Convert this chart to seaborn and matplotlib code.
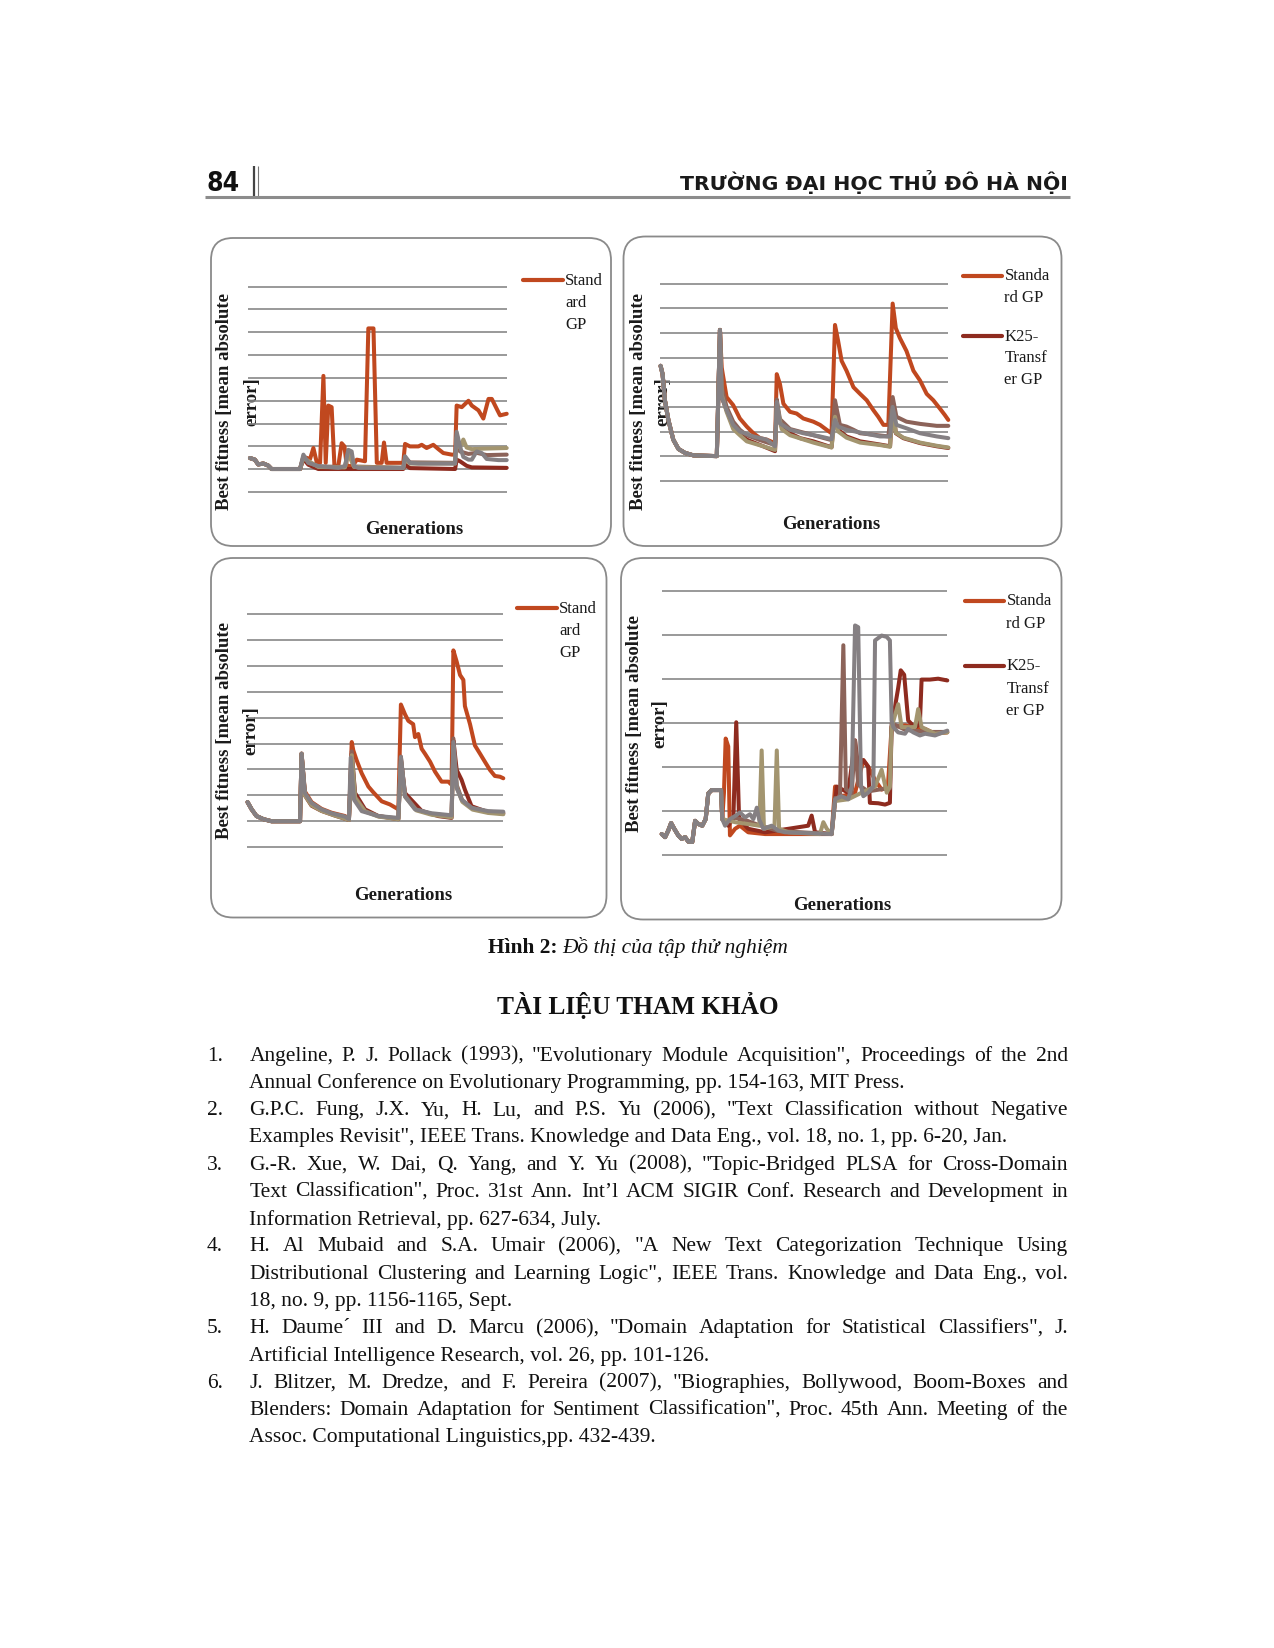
import matplotlib
matplotlib.use("Agg")
import matplotlib.pyplot as plt
from matplotlib import font_manager as fm
from matplotlib.font_manager import FontProperties
from matplotlib.patches import FancyBboxPatch
import seaborn as sns
import pandas as pd

# ---------------------------------------------------------------- data
SERIES_NAMES = ["Standard GP", "K25-Transfer GP", "K50-Transfer GP",
                "K75-Transfer GP", "K100-Transfer GP"]
COLORS = ["#C0481F", "#8E2B1F", "#8C6359", "#A3956F", "#858083"]

# ---- panel 1 (top left)
P1_START_X = [0, 1.9, 3.2, 5.2, 7.1, 8.4, 19.5]
P1_START_Y = [1.49, 1.42, 1.21, 1.25, 1.16, 1.01, 1.01]
P1_STD_X = [20.8, 23.4, 24.7, 26.0, 27.3, 28.6, 29.5, 30.5, 31.8, 32.9, 34.4, 35.7, 36.8, 37.7, 40.0,
            41.6, 44.8, 46.1, 48.1, 49.4, 51.3, 52.2, 53.2, 59.7, 60.4, 62.3, 65.6, 66.9, 68.8, 71.4,
            73.4, 75.3, 78.6, 79.9, 80.5, 82.5, 85.1, 86.4, 89.0, 90.9, 92.9, 94.2, 96.1, 97.4, 100]
P1_STD_Y = [1.54, 1.45, 1.93, 1.30, 1.28, 5.09, 1.28, 3.79, 3.72, 1.14, 1.14, 2.14, 2.00, 1.14, 1.14,
            1.42, 1.35, 7.17, 7.17, 1.28, 1.28, 2.17, 1.28, 1.28, 2.11, 2.00, 2.00, 2.07, 1.93, 2.07,
            1.88, 1.71, 1.64, 1.64, 3.79, 3.72, 4.00, 3.79, 3.58, 3.22, 4.08, 4.08, 3.65, 3.36, 3.43]
P1_K25_X = [20.8, 22.7, 26.6, 59.7, 60.4, 62.3, 79.9, 80.5, 81.8, 84.4, 86.4, 100]
P1_K25_Y = [1.45, 1.20, 1.01, 1.01, 1.20, 1.05, 1.01, 1.42, 1.35, 1.15, 1.08, 1.06]
P1_K50_X = [20.8, 22.7, 26.6, 37.0, 38.3, 40.5, 59.7, 60.4, 62.3, 79.9, 80.5, 81.8, 85.1, 88.3, 92.2, 100]
P1_K50_Y = [1.55, 1.30, 1.12, 1.10, 1.80, 1.12, 1.06, 1.50, 1.30, 1.28, 2.55, 1.78, 1.67, 1.72, 1.62, 1.64]
P1_K75_X = [20.8, 26.6, 37.0, 38.3, 40.5, 59.7, 60.4, 62.3, 79.9, 80.5, 81.8, 83.1, 84.4, 86.4, 90.3, 100]
P1_K75_Y = [1.50, 1.10, 1.08, 1.70, 1.10, 1.06, 1.45, 1.25, 1.25, 2.40, 1.95, 2.30, 1.95, 1.88, 1.90, 1.93]
P1_K100_X = [20.8, 22.7, 26.6, 34.4, 37.0, 38.3, 39.6, 40.5, 42.2, 59.7, 60.4, 62.3, 65.6, 79.9, 80.5,
             81.8, 83.1, 85.1, 86.4, 88.3, 90.3, 92.2, 96.8, 100]
P1_K100_Y = [1.64, 1.28, 1.14, 1.06, 1.14, 1.85, 1.78, 1.14, 1.06, 1.06, 1.57, 1.28, 1.25, 1.25, 2.64,
             2.00, 1.54, 1.42, 1.42, 1.78, 1.71, 1.45, 1.40, 1.40]

# ---- panel 2 (top right)
P2_START_X = [0.2, 0.9, 1.7, 2.9, 4.6, 6.4, 8.7, 11.6, 19.7, 20.8]
P2_START_Y = [4.67, 4.33, 3.27, 2.47, 1.67, 1.29, 1.13, 1.03, 1.00, 6.13]
P2_STD_X = [21.4, 23.1, 25.4, 27.7, 30.1, 32.4, 34.7, 37.0, 39.9, 40.5, 41.6, 42.8, 45.1, 47.4, 49.7,
            53.2, 55.5, 57.8, 59.5, 60.7, 61.8, 63.0, 64.7, 67.1, 69.4, 71.7, 74.0, 75.7, 77.5, 79.2,
            80.7, 81.8, 83.2, 85.5, 87.9, 90.2, 92.5, 94.8, 97.1, 98.8, 100]
P2_STD_Y = [4.60, 3.40, 3.07, 2.53, 2.20, 1.93, 1.73, 1.67, 1.53, 4.33, 3.93, 3.13, 2.80, 2.73, 2.53,
            2.40, 2.27, 2.07, 1.93, 6.33, 5.67, 4.87, 4.47, 3.80, 3.53, 3.27, 2.87, 2.60, 2.27, 2.27,
            7.20, 6.20, 5.80, 5.27, 4.47, 4.07, 3.53, 3.27, 2.93, 2.67, 2.47]
P2_K25_X = [21.4, 23.1, 25.4, 27.7, 30.1, 32.4, 35.8, 39.9, 40.5, 42.2, 45.1, 48.6, 53.2, 59.5, 60.7,
            61.8, 64.7, 69.4, 76.3, 79.8, 80.7, 81.8, 84.4, 90.2, 96.0, 100]
P2_K25_Y = [3.40, 2.87, 2.20, 1.93, 1.67, 1.56, 1.40, 1.20, 2.87, 2.20, 1.93, 1.73, 1.60, 1.36, 2.87,
            2.07, 1.80, 1.60, 1.47, 1.40, 3.13, 1.93, 1.73, 1.53, 1.40, 1.33]
P2_K50_X = [21.4, 23.1, 25.4, 27.7, 30.1, 34.7, 39.9, 40.5, 41.6, 45.1, 53.2, 59.5, 60.7, 62.4, 64.7,
            67.1, 69.4, 74.0, 79.2, 80.7, 82.0, 85.5, 90.2, 96.0, 100]
P2_K50_Y = [3.80, 3.00, 2.40, 2.07, 1.85, 1.65, 1.45, 3.30, 2.50, 2.10, 1.85, 1.65, 3.27, 2.27, 2.20,
            2.07, 1.93, 1.87, 1.80, 3.40, 2.60, 2.40, 2.31, 2.23, 2.23]
P2_K75_X = [21.4, 23.1, 25.4, 27.7, 30.1, 35.8, 39.9, 40.5, 42.2, 45.1, 53.2, 59.5, 60.7, 61.8, 64.7,
            69.4, 76.3, 79.8, 80.7, 81.8, 84.4, 90.2, 96.0, 100]
P2_K75_Y = [3.50, 2.80, 2.10, 1.85, 1.60, 1.40, 1.25, 3.10, 2.10, 1.85, 1.55, 1.35, 2.60, 2.00, 1.75,
            1.55, 1.45, 1.38, 2.90, 1.95, 1.75, 1.55, 1.42, 1.35]
P2_K100_X = [21.4, 23.1, 25.4, 27.7, 32.4, 37.0, 39.9, 40.5, 41.6, 45.1, 49.7, 55.5, 59.5, 60.7, 61.8,
             64.7, 69.4, 76.3, 79.8, 80.7, 82.0, 85.5, 90.2, 96.0, 100]
P2_K100_Y = [3.40, 2.87, 2.27, 2.00, 1.80, 1.67, 1.40, 3.20, 2.33, 2.07, 1.93, 1.80, 1.69, 2.47, 2.20,
             2.07, 1.96, 1.80, 1.80, 3.00, 2.27, 2.13, 1.93, 1.80, 1.73]

# ---- panel 3 (bottom left)
P3_START_X = [0.1, 1.7, 3.6, 6.3, 9.5, 19.9, 20.6, 21.2]
P3_START_Y = [1.74, 1.46, 1.20, 1.08, 1.00, 1.00, 1.00, 3.61]
P3_STD_X = [22.5, 25.1, 29.0, 32.9, 38.2, 39.7, 40.8, 41.4, 42.7, 44.7, 47.3, 49.2, 52.5, 55.7, 59.0,
            60.0, 61.6, 62.9, 64.8, 65.5, 66.8, 68.1, 69.4, 71.4, 73.3, 75.9, 78.5, 79.8, 80.5, 81.8,
            83.1, 84.4, 85.0, 87.0, 88.9, 90.9, 92.8, 94.8, 96.7, 98.7, 100]
P3_STD_Y = [2.15, 1.74, 1.48, 1.33, 1.20, 1.08, 4.06, 3.74, 3.36, 2.85, 2.34, 2.12, 1.77, 1.65, 1.46,
            5.51, 5.13, 4.88, 4.75, 4.25, 4.37, 3.80, 3.61, 3.30, 2.92, 2.53, 2.53, 2.41, 7.60, 7.16,
            6.65, 6.46, 5.45, 4.75, 3.93, 3.61, 3.30, 2.98, 2.75, 2.72, 2.66]
P3_K25_X = [22.5, 25.1, 29.0, 34.2, 39.7, 40.8, 42.1, 46.0, 51.2, 59.0, 60.0, 61.6, 68.1, 74.6, 79.8,
            80.5, 81.8, 83.7, 85.0, 87.6, 94.1, 100]
P3_K25_Y = [2.00, 1.60, 1.40, 1.22, 1.05, 3.61, 2.09, 1.46, 1.20, 1.08, 3.40, 2.09, 1.40, 1.20, 1.13,
            4.12, 2.98, 2.60, 2.22, 1.58, 1.35, 1.30]
P3_K50_X = [22.5, 25.1, 29.0, 34.2, 39.7, 40.8, 42.1, 46.0, 51.2, 59.0, 60.0, 61.6, 66.0, 72.0, 79.8,
            80.5, 81.8, 84.0, 88.0, 94.1, 100]
P3_K50_Y = [2.05, 1.65, 1.42, 1.25, 1.06, 3.70, 1.95, 1.40, 1.20, 1.10, 3.50, 2.00, 1.45, 1.28, 1.20,
            4.20, 2.40, 1.80, 1.50, 1.37, 1.33]
P3_K75_X = [22.5, 25.1, 29.0, 34.2, 39.7, 40.8, 42.1, 46.0, 51.2, 59.0, 60.0, 61.6, 66.0, 72.0, 79.8,
            80.5, 81.8, 84.0, 88.0, 94.1, 100]
P3_K75_Y = [2.00, 1.62, 1.40, 1.22, 1.05, 3.55, 1.90, 1.38, 1.18, 1.08, 3.35, 1.95, 1.42, 1.25, 1.15,
            3.90, 2.30, 1.75, 1.45, 1.32, 1.27]
P3_K100_X = [22.5, 25.1, 29.0, 32.9, 38.2, 39.7, 40.4, 41.7, 44.7, 51.2, 59.0, 60.0, 61.6, 65.5, 71.9,
             79.8, 80.5, 81.8, 83.7, 87.6, 94.1, 100]
P3_K100_Y = [2.09, 1.71, 1.46, 1.31, 1.18, 1.08, 3.46, 1.83, 1.39, 1.20, 1.13, 3.48, 1.96, 1.46, 1.31,
             1.23, 4.06, 2.28, 1.84, 1.52, 1.39, 1.37]

# ---- panel 4 (bottom right)
P4_START_X = [0, 1.2, 2.3, 3.3, 4.4, 5.8, 7.0, 8.2, 9.3, 10.7, 11.7, 12.8, 14.2, 15.4, 16.3, 17.5, 20.8, 21.2]
P4_START_Y = [0.48, 0.41, 0.56, 0.73, 0.60, 0.45, 0.37, 0.41, 0.31, 0.30, 0.78, 0.71, 0.67, 0.82, 1.40,
              1.48, 1.48, 0.82]
P4_STD_X = [21.8, 22.4, 23.3, 23.9, 25.7, 27.4, 30.3, 36.2, 59.5, 60.7, 63.0, 67.7, 70.6, 72.3, 74.7,
            77.0, 79.2, 80.5, 85.2, 88.7, 92.2, 95.7, 100]
P4_STD_Y = [1.42, 2.65, 2.47, 0.45, 0.60, 0.67, 0.52, 0.48, 0.48, 1.56, 1.34, 1.42, 2.16, 2.01, 1.71,
            1.49, 1.56, 2.91, 2.95, 2.90, 2.87, 2.76, 2.79]
P4_K25_X = [23.3, 25.1, 26.1, 27.1, 30.3, 36.2, 44.4, 51.3, 52.5, 53.7, 59.5, 61.3, 65.3, 67.7, 68.8,
            70.6, 72.3, 72.9, 75.8, 78.2, 79.9, 80.5, 82.8, 83.7, 84.9, 86.3, 88.7, 90.4, 91.0, 93.9,
            96.8, 100]
P4_K25_Y = [0.67, 0.86, 3.02, 0.82, 0.60, 0.52, 0.60, 0.67, 0.90, 0.52, 0.48, 1.56, 1.42, 2.61, 2.00,
            2.16, 2.01, 1.19, 1.18, 1.15, 1.19, 2.91, 3.80, 4.20, 4.10, 3.06, 2.90, 2.98, 3.99, 3.99,
            4.01, 3.97]
P4_K50_X = [22.2, 25.7, 29.2, 33.3, 40.8, 59.5, 60.7, 62.4, 63.6, 64.5, 66.5, 67.7, 68.8, 72.3, 77.0,
            79.9, 80.5, 85.2, 92.2, 100]
P4_K50_Y = [0.75, 0.85, 0.80, 0.70, 0.55, 0.48, 1.30, 1.30, 4.77, 1.50, 1.40, 2.60, 1.60, 1.45, 1.50,
            1.52, 3.00, 2.85, 2.80, 2.80]
P4_K75_X = [25.7, 34.2, 35.0, 35.8, 39.5, 40.3, 41.1, 44.4, 55.4, 56.6, 57.8, 59.5, 60.7, 65.3, 70.0,
            74.7, 77.0, 78.8, 79.9, 80.5, 82.8, 84.0, 88.7, 89.8, 91.0, 95.7, 100]
P4_K75_Y = [0.75, 0.67, 2.38, 0.60, 0.67, 2.38, 0.60, 0.52, 0.48, 0.75, 0.60, 0.48, 1.23, 1.27, 1.42,
            1.56, 1.94, 1.42, 1.56, 2.91, 3.43, 2.91, 2.91, 3.32, 2.91, 2.76, 2.79]
P4_K100_X = [22.2, 23.9, 25.7, 27.4, 29.2, 30.9, 32.1, 33.3, 34.1, 35.6, 38.5, 40.8, 43.2, 59.5, 60.7,
             63.0, 65.3, 66.5, 67.7, 68.8, 69.8, 70.6, 72.3, 74.1, 74.7, 77.0, 78.8, 79.9, 80.5, 81.1,
             82.8, 85.2, 86.3, 88.1, 90.4, 92.2, 95.7, 100]
P4_K100_Y = [0.67, 0.82, 0.89, 0.97, 0.86, 0.93, 0.82, 1.08, 0.82, 0.60, 0.67, 0.56, 0.52, 0.48, 1.27,
             1.34, 1.27, 1.56, 5.22, 5.18, 1.56, 1.34, 1.42, 1.56, 4.88, 4.99, 4.96, 4.88, 3.06, 2.91,
             2.79, 2.76, 2.87, 2.79, 2.72, 2.76, 2.72, 2.83]

# ---- text
HEADER_NUM = "84"
HEADER_TITLE = "TRƯỜNG ĐẠI HỌC THỦ ĐÔ HÀ NỘI"
Y_LABEL_1 = "Best fitness [mean absolute"
Y_LABEL_2 = "error]"
X_LABEL = "Generations"
LEGEND_WRAP_NARROW = [["Stand", "ard", "GP"]]
LEGEND_WRAP_WIDE = [["Standa", "rd GP"], ["K25-", "Transf", "er GP"]]
CAPTION_BOLD = "Hình 2:"
CAPTION_ITALIC = "Đồ thị của tập thử nghiệm"
HEADING = "TÀI LIỆU THAM KHẢO"
REF_LINES = [
    ("1.", 'Angeline, P. J. Pollack (1993), "Evolutionary Module Acquisition", Proceedings of the 2nd', True),
    (None, 'Annual Conference on Evolutionary Programming, pp. 154-163, MIT Press.', False),
    ("2.", 'G.P.C. Fung, J.X. Yu, H. Lu, and P.S. Yu (2006), "Text Classification without Negative', True),
    (None, 'Examples Revisit", IEEE Trans. Knowledge and Data Eng., vol. 18, no. 1, pp. 6-20, Jan.', False),
    ("3.", 'G.-R. Xue, W. Dai, Q. Yang, and Y. Yu (2008), "Topic-Bridged PLSA for Cross-Domain', True),
    (None, 'Text Classification", Proc. 31st Ann. Int\u2019l ACM SIGIR Conf. Research and Development in', True),
    (None, 'Information Retrieval, pp. 627-634, July.', False),
    ("4.", 'H. Al Mubaid and S.A. Umair (2006), "A New Text Categorization Technique Using', True),
    (None, 'Distributional Clustering and Learning Logic", IEEE Trans. Knowledge and Data Eng., vol.', True),
    (None, '18, no. 9, pp. 1156-1165, Sept.', False),
    ("5.", 'H. Daume\u00b4 III and D. Marcu (2006), "Domain Adaptation for Statistical Classifiers", J.', True),
    (None, 'Artificial Intelligence Research, vol. 26, pp. 101-126.', False),
    ("6.", 'J. Blitzer, M. Dredze, and F. Pereira (2007), "Biographies, Bollywood, Boom-Boxes and', True),
    (None, 'Blenders: Domain Adaptation for Sentiment Classification", Proc. 45th Ann. Meeting of the', True),
    (None, 'Assoc. Computational Linguistics,pp. 432-439.', False),
]

PANEL_SERIES = [
    [(P1_START_X + P1_STD_X, P1_START_Y + P1_STD_Y), (P1_START_X + P1_K25_X, P1_START_Y + P1_K25_Y),
     (P1_START_X + P1_K50_X, P1_START_Y + P1_K50_Y), (P1_START_X + P1_K75_X, P1_START_Y + P1_K75_Y),
     (P1_START_X + P1_K100_X, P1_START_Y + P1_K100_Y)],
    [(P2_START_X + P2_STD_X, P2_START_Y + P2_STD_Y), (P2_START_X + P2_K25_X, P2_START_Y + P2_K25_Y),
     (P2_START_X + P2_K50_X, P2_START_Y + P2_K50_Y), (P2_START_X + P2_K75_X, P2_START_Y + P2_K75_Y),
     (P2_START_X + P2_K100_X, P2_START_Y + P2_K100_Y)],
    [(P3_START_X + P3_STD_X, P3_START_Y + P3_STD_Y), (P3_START_X + P3_K25_X, P3_START_Y + P3_K25_Y),
     (P3_START_X + P3_K50_X, P3_START_Y + P3_K50_Y), (P3_START_X + P3_K75_X, P3_START_Y + P3_K75_Y),
     (P3_START_X + P3_K100_X, P3_START_Y + P3_K100_Y)],
    [(P4_START_X + P4_STD_X, P4_START_Y + P4_STD_Y), (P4_START_X + P4_K25_X, P4_START_Y + P4_K25_Y),
     (P4_START_X + P4_K50_X, P4_START_Y + P4_K50_Y), (P4_START_X + P4_K75_X, P4_START_Y + P4_K75_Y),
     (P4_START_X + P4_K100_X, P4_START_Y + P4_K100_Y)],
]

# ---------------------------------------------------------------- layout (pixels)
W, H = 1274, 1649
PANEL_LAYOUT = [
    dict(box=(211, 239, 611, 547), plot=(248.3, 286.0, 506.7, 494.7), ymax=9, xlim=(-0.66, 100),
         ylab=(225, 251.5, 402), xlab=(414, 530),
         leg_line=(523, 563), leg_text=565, leg=[(281, [281, 303, 325])], wrap=LEGEND_WRAP_NARROW),
    dict(box=(623.5, 237.5, 1061.5, 547), plot=(660.0, 283.3, 948.3, 483.3), ymax=8, xlim=(0, 100),
         ylab=(638.3, 663.3, 401.5), xlab=(831.5, 525),
         leg_line=(963, 1002), leg_text=1004.5, leg=[(276.5, [276.5, 298]), (337, [337, 358.5, 380])],
         wrap=LEGEND_WRAP_WIDE),
    dict(box=(211, 559, 606.5, 918.5), plot=(247.3, 613.3, 503.3, 850.0), ymax=9, xlim=(0, 100),
         ylab=(225, 250.5, 731), xlab=(403.3, 896),
         leg_line=(517, 557), leg_text=559, leg=[(609, [609, 631, 653])], wrap=LEGEND_WRAP_NARROW),
    dict(box=(621, 559, 1061.5, 920.5), plot=(661.7, 590.0, 947.3, 858.3), ymax=6, xlim=(0, 100),
         ylab=(635, 660, 724), xlab=(842.5, 906),
         leg_line=(965, 1004), leg_text=1006.5, leg=[(601.5, [601.5, 624]), (666.5, [666.5, 689, 711])],
         wrap=LEGEND_WRAP_WIDE),
]

# ---------------------------------------------------------------- style
sns.set_theme(style="white")
SERIF = ['Liberation Serif', 'DejaVu Serif']
plt.rcParams['font.family'] = SERIF


def find_condensed_bold():
    best = None
    for f in fm.fontManager.ttflist:
        nm = f.name.lower()
        stretch = str(f.stretch).lower()
        narrow = ('narrow' in nm or 'condensed' in nm or 'condensed' in stretch)
        if not narrow or 'mono' in nm or 'serif' in nm:
            continue
        w = f.weight if isinstance(f.weight, int) else (700 if 'bold' in str(f.weight) else 400)
        if w >= 600 and f.style == 'normal':
            best = f.fname
            break
    return best


_cond = find_condensed_bold()
NUM_FONT = (FontProperties(fname=_cond) if _cond
            else FontProperties(family='DejaVu Sans', weight='bold'))

fig = plt.figure(figsize=(W / 100, H / 100), dpi=100)
fig.patch.set_facecolor('white')
bg = fig.add_axes([0, 0, 1, 1])
bg.set_xlim(0, W)
bg.set_ylim(H, 0)
bg.axis('off')
renderer = fig.canvas.get_renderer()


def width_of(t):
    return t.get_window_extent(renderer=renderer).width


def fit(t, target):
    t.set_fontsize(t.get_fontsize() * target / width_of(t))
    return t


# ---------------------------------------------------------------- header
t = bg.text(206, 191, HEADER_NUM, fontproperties=NUM_FONT, ha='left', va='baseline',
            color='#111111')
t.set_fontsize(19 if _cond else 15.5)
bg.plot([254, 254], [167, 197], color='#444444', lw=1.6, solid_capstyle='butt')
bg.plot([257.5, 257.5], [167, 197], color='#777777', lw=0.8, solid_capstyle='butt')
bg.plot([205, 1070], [198, 198], color='#8c8c8c', lw=2.2, solid_capstyle='butt')
t = bg.text(1068, 190.5, HEADER_TITLE, family=['DejaVu Sans'], weight='bold', fontsize=14,
            ha='right', va='baseline', color='#1a1a1a')
fit(t, 389)

# ---------------------------------------------------------------- panels
for spec, series in zip(PANEL_LAYOUT, PANEL_SERIES):
    bx0, by0, bx1, by1 = spec['box']
    bg.add_patch(FancyBboxPatch((bx0, by0), bx1 - bx0, by1 - by0,
                                boxstyle="round,pad=0,rounding_size=22",
                                fc='white', ec='#8a8a8a', lw=1.3, zorder=1))
    x0, y0, x1, y1 = spec['plot']
    ax = fig.add_axes([x0 / W, 1 - y1 / H, (x1 - x0) / W, (y1 - y0) / H])
    ax.patch.set_alpha(0)
    for i, (xs, ys) in enumerate(series):
        df = pd.DataFrame({'Generation': xs, 'Best fitness': ys, 'Series': SERIES_NAMES[i]})
        sns.lineplot(data=df, x='Generation', y='Best fitness', ax=ax, color=COLORS[i], lw=2.9,
                     estimator=None, sort=False, legend=False, clip_on=False,
                     solid_joinstyle='round', solid_capstyle='round')
    pad = spec['ymax'] * 0.008
    ax.set_xlim(*spec['xlim'])
    ax.set_ylim(-pad, spec['ymax'] + pad)
    ax.set_yticks(range(spec['ymax'] + 1))
    ax.set_xticks([])
    ax.yaxis.grid(True, color='#888888', lw=1.2)
    ax.xaxis.grid(False)
    ax.set_axisbelow(True)
    ax.tick_params(length=0, labelleft=False, labelbottom=False)
    ax.set_xlabel('')
    ax.set_ylabel('')
    for s in ax.spines.values():
        s.set_visible(False)

    lx1, lx2, ly = spec['ylab']
    bg.text(lx1, ly, Y_LABEL_1, rotation=90, ha='center', va='center', fontsize=13.5,
            weight='bold', color='#1a1a1a', zorder=2)
    bg.text(lx2, ly, Y_LABEL_2, rotation=90, ha='center', va='center', fontsize=13.5,
            weight='bold', color='#1a1a1a', zorder=2)
    gx, gy = spec['xlab']
    bg.text(gx, gy, X_LABEL, ha='center', va='center', fontsize=13.5, weight='bold',
            color='#1a1a1a', zorder=2)
    for k, (line_y, text_ys) in enumerate(spec['leg']):
        bg.plot(spec['leg_line'], [line_y, line_y], color=COLORS[k], lw=3.0,
                solid_capstyle='round', zorder=2)
        for word, ty in zip(spec['wrap'][k], text_ys):
            bg.text(spec['leg_text'], ty, word, ha='left', va='center', fontsize=12,
                    color='#1a1a1a', zorder=2)

# ---------------------------------------------------------------- caption and heading
ti = bg.text(562, 948, CAPTION_ITALIC, style='italic', fontsize=15, ha='left', va='center',
             color='#111111')
fit(ti, 226)
bg.text(558, 948, CAPTION_BOLD, weight='bold', fontsize=ti.get_fontsize(), ha='right',
        va='center', color='#111111')
th = bg.text(637.5, 1005, HEADING, weight='bold', fontsize=17, ha='center', va='center',
             color='#111111')
fit(th, 282)

# ---------------------------------------------------------------- references
probe = bg.text(0, 0, REF_LINES[3][1], fontsize=15)
ref_fs = probe.get_fontsize() * 762 / width_of(probe)
probe.remove()

NUM_X, TXT_X, TXT_R = 207, 249.3, 1068
for i, (num, line, just) in enumerate(REF_LINES):
    y = 1056.2 + i * 27.25
    if num:
        bg.text(NUM_X, y, num, fontsize=ref_fs, ha='left', va='center', color='#111111')
    if not just:
        bg.text(TXT_X, y, line, fontsize=ref_fs, ha='left', va='center', color='#111111')
        continue
    words = line.split(' ')
    texts = [bg.text(0, y, w, fontsize=ref_fs, ha='left', va='center', color='#111111')
             for w in words]
    widths = [width_of(tt) for tt in texts]
    gap = ((TXT_R - TXT_X) - sum(widths)) / (len(words) - 1)
    x = TXT_X
    for tt, wd in zip(texts, widths):
        tt.set_x(x)
        x += wd + gap

fig.savefig('out.png', dpi=100, facecolor='white')
